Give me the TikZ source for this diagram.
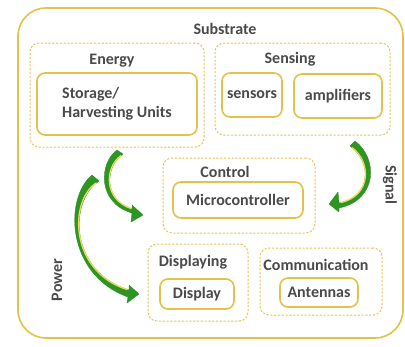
\documentclass[tikz,border=0pt]{standalone}
\usepackage{fontspec}
\setmainfont{Carlito}
\usetikzlibrary{arrows.meta}
\definecolor{gold}{HTML}{E2C24A}
\definecolor{golddash}{HTML}{E6C65C}
\definecolor{txt}{HTML}{4A4A4A}
\definecolor{leaf}{HTML}{2E9424}
\definecolor{leaflight}{HTML}{E9DE5C}
\tikzset{
  lbl/.style={text=txt, font=\fontsize{16}{19}\selectfont\bfseries, inner sep=0pt},
  groupbox/.style={draw=golddash, dash pattern=on 2.2pt off 1.6pt, line width=1pt, rounded corners=9pt},
  unitbox/.style={draw=gold, line width=1.6pt, rounded corners=8pt, text=txt,
    font=\fontsize{16}{19}\selectfont\bfseries, inner sep=0pt},
  flowbody/.style={fill=leaf, draw=leaf, line width=0.4pt, line join=round},
  flowedge/.style={draw=leaflight, line width=1.3pt, line cap=round},
}
\begin{document}
\begin{tikzpicture}[x=1pt,y=-1pt]
\useasboundingbox (0,0) rectangle (405,346);
\fill[white] (0,0) rectangle (405,346);

% substrate
\draw[gold, line width=1.6pt, rounded corners=28pt] (18,8) rectangle (403,338);
\node[lbl] (substrate) at (225,29) {Substrate};

% energy group
\node[groupbox, minimum width=174, minimum height=104] (energy) at (117,95) {};
\node[lbl] (energylbl) at (112,61) {Energy};
\node[unitbox, minimum width=160, minimum height=62, align=left] (storage) at (117,104)
  {Storage/\\Harvesting Units};

% sensing group
\node[groupbox, minimum width=175, minimum height=92] (sensing) at (302.5,89) {};
\node[lbl] (sensinglbl) at (290,59) {Sensing};
\node[unitbox, minimum width=60, minimum height=44] (sensors) at (252,95) {sensors};
\node[unitbox, minimum width=88, minimum height=44] (amps) at (338,96) {amplifiers};

% control group
\node[groupbox, minimum width=152, minimum height=75] (control) at (239,195.5) {};
\node[lbl] (controllbl) at (225,172) {Control};
\node[unitbox, minimum width=130, minimum height=36] (micro) at (238,200) {Microcontroller};

% displaying group
\node[groupbox, minimum width=100, minimum height=77] (displaying) at (198,282.5) {};
\node[lbl] (displayinglbl) at (193,262) {Displaying};
\node[unitbox, minimum width=74, minimum height=30] (display) at (197,294) {Display};

% communication group
\node[groupbox, minimum width=122, minimum height=67] (comm) at (321,281.5) {};
\node[lbl] (commlbl) at (316,265) {Communication};
\node[unitbox, minimum width=78, minimum height=29] (antennas) at (319,292.5) {Antennas};

% side labels
\node[lbl, rotate=-90] (signal) at (390,185) {Signal};
\node[lbl, rotate=90] (power) at (57,280) {Power};

% curved block arrows: outer edge, head, inner edge
% energy -> control
\coordinate (e1) at (117,150);
\coordinate (c1) at (143,215);
\filldraw[flowbody] (e1) .. controls (99,163) and (97,203) .. (132,213)
  -- (131,222) -- (c1) -- (132,205) -- (132,209)
  .. controls (104,200) and (104,168) .. (123,154) -- cycle;
\draw[flowedge] (131,208.5) .. controls (104,199.5) and (104,168) .. (121,155.5);

% power -> displaying
\coordinate (e2) at (92,175);
\coordinate (d2) at (139,294);
\filldraw[flowbody] (e2) .. controls (64,198) and (66,275) .. (128,297)
  -- (127,303) -- (d2) -- (129,285) -- (129,290)
  .. controls (70,272) and (68,202) .. (99,181) -- cycle;
\draw[flowedge] (127,289.5) .. controls (70,271.5) and (68.5,202) .. (96,183);

% sensing -> control
\coordinate (s3) at (355,141);
\coordinate (c3) at (329,204);
\filldraw[flowbody] (s3) .. controls (378,158) and (378,200) .. (339,208)
  -- (339,212) -- (c3) -- (338,192) -- (339,203)
  .. controls (372,196) and (372,162) .. (350,146) -- cycle;
\draw[flowedge] (341,202.5) .. controls (371.5,195.5) and (371.5,162) .. (352,147.5);
\end{tikzpicture}
\end{document}
